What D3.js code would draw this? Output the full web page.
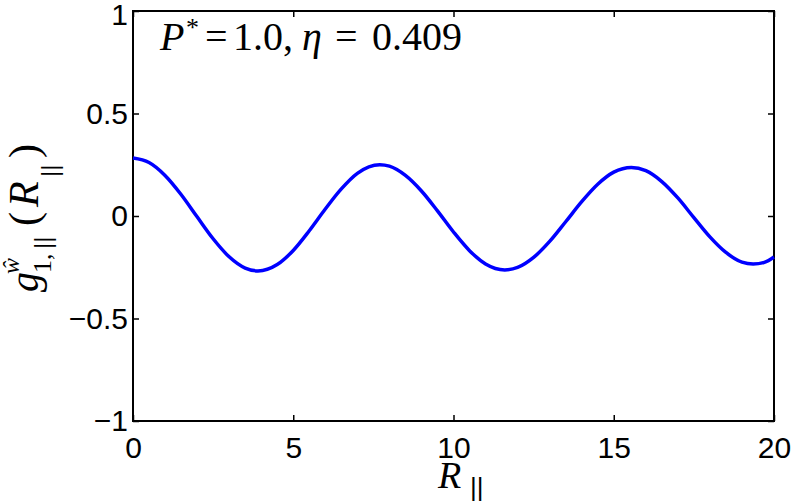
<!DOCTYPE html>
<html>
<head>
<meta charset="utf-8">
<script src="https://cdn.jsdelivr.net/npm/d3@7"></script>
<style>
  body { margin: 0; background: #fff; }
  svg { display: block; }
  .tick text { font-family: "Liberation Sans", Arial, sans-serif; font-size: 30px; fill: #000; }
  .math { font-family: "Liberation Serif", "Times New Roman", serif; fill: #000; }
  .bars { font-family: "Liberation Sans", Arial, sans-serif; }
</style>
</head>
<body>
<div id="chart"></div>
<script>
// values
var rValues = [0, 0.5, 1, 1.5, 2, 2.5, 3, 3.5, 3.9, 4.5, 5, 5.5, 6, 6.5, 7, 7.7,
  8, 8.5, 9, 9.5, 10, 10.5, 11, 11.6, 12, 12.5, 13, 13.5, 14, 14.5, 15, 15.55,
  16, 16.5, 17, 17.5, 18, 18.5, 19, 19.35, 19.7, 20];
var gValues = [0.283, 0.261, 0.198, 0.105, -0.004, -0.111, -0.199, -0.254, -0.268,
  -0.237, -0.168, -0.072, 0.034, 0.132, 0.208, 0.250,
  0.243, 0.198, 0.122, 0.025, -0.078, -0.169, -0.234, -0.263,
  -0.251, -0.202, -0.124, -0.028, 0.070, 0.155, 0.214, 0.237,
  0.221, 0.168, 0.088, -0.008, -0.102, -0.178, -0.225, -0.234, -0.226, -0.200];
var xTicks = [0, 5, 10, 15, 20];
var yTicks = [-1, -0.5, 0, 0.5, 1];

var W = 793, H = 502;
var margin = {top: 11, right: 19, bottom: 81, left: 133},
    width = W - margin.left - margin.right,
    height = H - margin.top - margin.bottom;

var svg = d3.select("#chart")
  .append("svg")
  .attr("width", W)
  .attr("height", H)
  .append("g")
  .attr("transform", "translate(" + margin.left + "," + margin.top + ")");

var x = d3.scaleLinear().domain([0, 20]).range([0, width]);
var y = d3.scaleLinear().domain([-1, 1]).range([height, 0]);

var fmt = function(d) { return String(d).replace("-", "\u2212"); };

// axes, ticks pointing inward
svg.append("g")
  .attr("transform", "translate(0," + height + ")")
  .call(d3.axisBottom(x).tickValues(xTicks).tickFormat(fmt).tickSizeInner(-6).tickSizeOuter(0).tickPadding(16));
var yAxis = svg.append("g")
  .call(d3.axisLeft(y).tickValues(yTicks).tickFormat(fmt).tickSizeInner(-6).tickSizeOuter(0).tickPadding(5));
// top label sits a little lower, as in the original
yAxis.selectAll(".tick text").filter(function(d) { return d === 1; }).attr("y", 4);
svg.append("g")
  .call(d3.axisTop(x).tickValues(xTicks).tickFormat("").tickSizeInner(-6).tickSizeOuter(0));
svg.append("g")
  .attr("transform", "translate(" + width + ",0)")
  .call(d3.axisRight(y).tickValues(yTicks).tickFormat("").tickSizeInner(-6).tickSizeOuter(0));

svg.selectAll(".domain").remove();
svg.selectAll(".tick line").attr("stroke", "#000").attr("stroke-width", 1.5);

// box
svg.append("rect")
  .attr("x", 0).attr("y", 0)
  .attr("width", width).attr("height", height)
  .attr("fill", "none")
  .attr("stroke", "#000")
  .attr("stroke-width", 2);

// curve
var pts = rValues.map(function(r, i) { return [r, gValues[i]]; });
var line = d3.line()
  .x(function(d) { return x(d[0]); })
  .y(function(d) { return y(d[1]); })
  .curve(d3.curveMonotoneX);

svg.append("path")
  .datum(pts)
  .attr("d", line)
  .attr("fill", "none")
  .attr("stroke", "#0000ff")
  .attr("stroke-width", 3.5)
  .attr("stroke-linejoin", "round");

// annotation  P* = 1.0, eta = 0.409
var note = svg.append("text")
  .attr("class", "math")
  .attr("y", 50 - margin.top)
  .attr("font-size", 40);
note.append("tspan").attr("x", 160 - margin.left).attr("font-style", "italic").text("P");
note.append("tspan").attr("x", 186 - margin.left).attr("dy", -14).attr("font-size", 26).text("*");
note.append("tspan").attr("x", 205 - margin.left).attr("dy", 14).text("=");
note.append("tspan").attr("x", 233 - margin.left).text("1.0,");
note.append("tspan").attr("x", 302 - margin.left).attr("font-style", "italic").text("\u03b7");
note.append("tspan").attr("x", 335 - margin.left).text("=");
note.append("tspan").attr("x", 372 - margin.left).text("0.409");

// x label  R_||
var xl = svg.append("text")
  .attr("class", "math")
  .attr("y", 488 - margin.top)
  .attr("font-size", 38);
xl.append("tspan").attr("x", 438 - margin.left).attr("font-style", "italic").text("R");
xl.append("tspan").attr("class", "bars").attr("x", 470 - margin.left).attr("dy", 8).attr("font-size", 26).text("||");

// y label  g^{w^}_{1,||}(R_||), rotated
var yl = d3.select("svg").append("g")
  .attr("class", "math")
  .attr("transform", "translate(38,292) rotate(-90)");
yl.append("text").attr("x", 0).attr("font-size", 40).attr("font-style", "italic").text("g");
yl.append("text").attr("x", 18).attr("y", -19).attr("font-size", 24).attr("font-style", "italic").text("\u0175");
var sub = yl.append("text").attr("y", 13).attr("font-size", 26);
sub.append("tspan").attr("x", 19).text("1,");
sub.append("tspan").attr("class", "bars").attr("x", 43).attr("font-size", 24).text("||");
yl.append("text").attr("x", 66).attr("font-size", 42).text("(");
yl.append("text").attr("x", 85).attr("font-size", 42).attr("font-style", "italic").text("R");
yl.append("text").attr("class", "bars").attr("x", 115).attr("y", 20).attr("font-size", 24).text("||");
yl.append("text").attr("x", 134).attr("font-size", 42).text(")");
</script>
</body>
</html>
